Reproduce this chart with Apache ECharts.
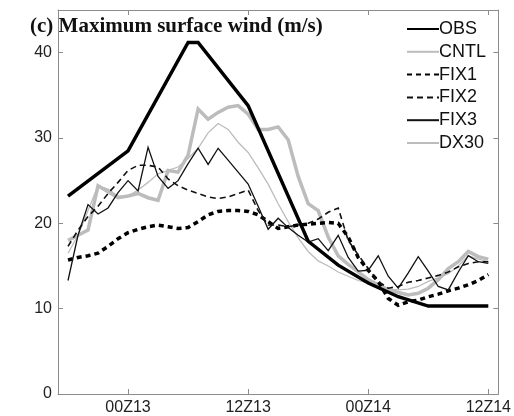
<!DOCTYPE html>
<html>
<head>
<meta charset="utf-8">
<script src="https://cdn.jsdelivr.net/npm/echarts@6/dist/echarts.min.js"></script>
<style>
html,body{margin:0;padding:0;background:#fff;}
#chart{width:514px;height:416px;}
</style>
</head>
<body>
<div id="chart"></div>
<script>
// Hours relative to 00Z13
var hours = [-6,-5,-4,-3,-2,-1,0,1,2,3,4,5,6,7,8,9,10,11,12,13,14,15,16,17,18,19,20,21,22,23,24,25,26,27,28,29,30,31,32,33,34,35,36];

var obsHours  = [-6, 0, 6, 7, 12, 18, 21, 24, 27, 30, 36];
var obsValues = [23.2, 28.5, 41.2, 41.2, 33.8, 17.9, 15.1, 13.0, 11.4, 10.3, 10.3];

var cntl = [18.0,18.6,19.2,24.4,23.7,23.0,23.2,23.5,23.0,22.7,26.2,26.0,28.0,33.4,32.2,33.0,33.6,33.8,32.8,31.0,31.0,31.3,29.8,25.5,22.3,21.5,18.4,16.2,15.2,14.3,13.4,12.8,12.2,11.9,11.6,11.8,12.4,13.4,14.7,15.5,16.7,16.1,15.8];

var fix1 = [15.7,16.0,16.2,16.5,17.3,18.2,18.9,19.3,19.6,19.8,19.6,19.4,19.5,20.2,21.0,21.4,21.5,21.5,21.4,21.0,20.2,19.4,19.6,19.8,19.9,20.0,20.1,20.0,18.4,16.0,14.5,13.2,11.2,10.4,10.8,11.0,11.4,11.7,12.1,12.4,12.8,13.3,14.0];

var fix2 = [17.3,19.2,20.8,22.0,23.5,24.8,26.2,26.8,26.8,26.6,25.2,24.4,23.9,23.5,23.1,22.9,23.1,23.5,23.9,21.5,19.8,19.8,19.6,19.8,20.0,20.5,21.3,21.8,18.0,16.3,14.7,13.2,12.4,12.6,13.1,13.3,13.6,13.9,14.3,14.9,15.3,15.5,15.5];

var fix3 = [13.3,18.6,22.2,21.1,21.8,23.6,25.0,23.8,28.9,25.5,24.1,25.0,27.0,28.8,26.9,28.8,27.4,26.0,24.6,22.0,19.3,20.6,19.5,18.6,17.8,18.2,16.8,18.6,16.0,14.4,14.5,16.2,13.8,12.4,14.2,16.1,14.4,12.6,12.2,14.3,16.2,15.5,15.3];

var dx30 = [16.5,18.6,21.5,24.4,24.0,23.2,23.2,23.9,24.8,25.8,26.2,26.6,27.6,28.8,30.6,31.7,31.0,29.5,28.3,26.5,24.6,22.3,20.2,18.3,16.7,15.6,15.0,14.3,13.8,13.3,13.0,12.6,12.3,12.2,12.3,12.6,13.2,13.6,14.1,15.0,16.2,15.8,15.5];

var xTickValues = [0, 12, 24, 36];
var xTickLabels = ['00Z13', '12Z13', '00Z14', '12Z14'];
var yTickValues = [0, 10, 20, 30, 40];

var titleText = '(c) Maximum surface wind (m/s)';
var legendNames = ['OBS', 'CNTL', 'FIX1', 'FIX2', 'FIX3', 'DX30'];

function pairs(xs, ys) { return xs.map(function (x, i) { return [x, ys[i]]; }); }

var frameColor = '#8c8c8c';
var lightGray = '#bcbcbc';

var chart = echarts.init(document.getElementById('chart'), null, {renderer: 'canvas'});

function xAxisDef(pos, showLabel) {
  return {
    type: 'value', position: pos, min: -7, max: 37,
    axisLine: {show: true, onZero: false, lineStyle: {color: frameColor, width: 1}},
    axisTick: {show: true, inside: true, length: 5, customValues: xTickValues, lineStyle: {color: frameColor}},
    axisLabel: {show: showLabel, customValues: xTickValues, margin: 6,
      fontFamily: 'Liberation Sans', fontSize: 16, color: '#222',
      formatter: function (v) { var i = xTickValues.indexOf(v); return i >= 0 ? xTickLabels[i] : ''; }},
    splitLine: {show: false}
  };
}
function yAxisDef(pos, showLabel) {
  return {
    type: 'value', position: pos, min: 0, max: 45,
    axisLine: {show: true, onZero: false, lineStyle: {color: frameColor, width: 1}},
    axisTick: {show: true, inside: true, length: 5, customValues: yTickValues, lineStyle: {color: frameColor}},
    axisLabel: {show: showLabel, customValues: yTickValues, margin: 6,
      fontFamily: 'Liberation Sans', fontSize: 16, color: '#222'},
    splitLine: {show: false}
  };
}

function lineSeries(name, data, color, width, type) {
  return {
    name: name, type: 'line', data: data, symbol: 'none', showSymbol: false,
    lineStyle: {color: color, width: width, type: type || 'solid', cap: 'butt', join: 'miter'},
    itemStyle: {color: color},
    animation: false, silent: true
  };
}

var option = {
  animation: false,
  backgroundColor: '#fff',
  grid: {left: 58, right: 15, top: 10, bottom: 20, containLabel: false},
  graphic: [{
    type: 'text', left: 30, top: 16, silent: true,
    style: {text: titleText, font: 'bold 21px "Liberation Serif"', fill: '#111'}
  }],
  legend: {
    data: legendNames, orient: 'vertical', left: 406, top: 20, padding: 0,
    itemWidth: 32, itemHeight: 10, itemGap: 4.8,
    itemStyle: {color: 'transparent', borderColor: 'transparent', borderWidth: 0, opacity: 0},
    textStyle: {fontFamily: 'Liberation Sans', fontSize: 18, lineHeight: 18, color: '#111', padding: [0, 0, 0, -5]},
    selectedMode: false
  },
  xAxis: [xAxisDef('bottom', true), xAxisDef('top', false)],
  yAxis: [yAxisDef('left', true), yAxisDef('right', false)],
  series: [
    lineSeries('CNTL', pairs(hours, cntl), lightGray, 3.5),
    lineSeries('DX30', pairs(hours, dx30), lightGray, 1.3),
    lineSeries('FIX1', pairs(hours, fix1), '#000', 3.5, [5, 4]),
    lineSeries('FIX2', pairs(hours, fix2), '#111', 1.6, [6, 4]),
    lineSeries('FIX3', pairs(hours, fix3), '#111', 1.3),
    lineSeries('OBS', pairs(obsHours, obsValues), '#000', 3.5)
  ]
};
chart.setOption(option);
</script>
</body>
</html>
